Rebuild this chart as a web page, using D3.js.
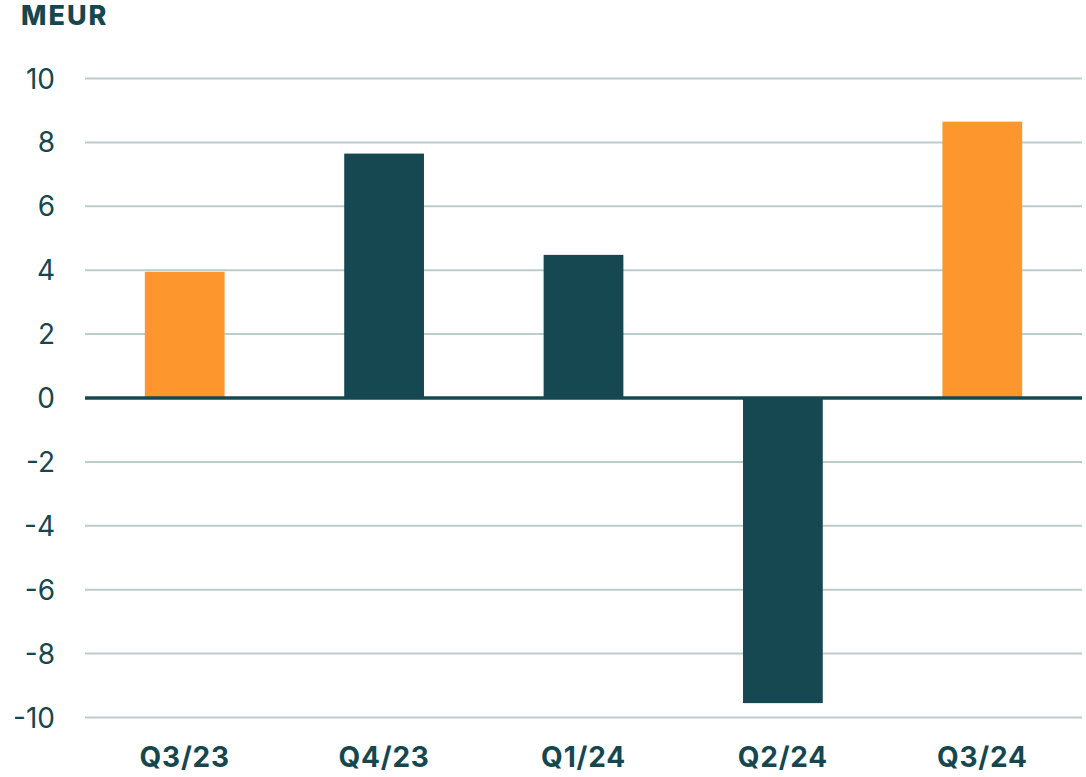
<!DOCTYPE html>
<html>
<head>
<meta charset="utf-8">
<script src="https://cdn.jsdelivr.net/npm/d3@7"></script>
<style>
  body { margin: 0; background: #fff; }
  svg text { font-family: Inter, "Noto Sans", sans-serif; fill: #16474f; }
  .ylab { font-size: 28px; font-weight: 400; }
  .xlab { font-size: 28px; font-weight: 700; letter-spacing: 0.8px; }
  .unit { font-size: 27px; font-weight: 800; letter-spacing: 2px; }
</style>
</head>
<body>
<div id="chart"></div>
<script>
// quarters and result values (MEUR)
var quarters = ['Q3/23', 'Q4/23', 'Q1/24', 'Q2/24', 'Q3/24'];
var values = [3.95, 7.65, 4.48, -9.55, 8.65];
var highlight = [true, false, false, false, true]; // Q3 quarters in orange
var yTicks = [10, 8, 6, 4, 2, 0, -2, -4, -6, -8, -10];

var cfg = {
    w: 1086,
    h: 777,
    left: 85,
    right: 1082,
    top: 78.5,
    bottom: 717.5,
    orange: '#fd962d',
    teal: '#164851',
    grid: '#bccbcd'
};

var svg = d3.select('#chart').append('svg')
    .attr('width', cfg.w)
    .attr('height', cfg.h);

var x = d3.scaleBand()
    .domain(quarters)
    .range([cfg.left, cfg.right])
    .paddingInner(0.6)
    .paddingOuter(0.3);

var y = d3.scaleLinear()
    .domain([-10, 10])
    .range([cfg.bottom, cfg.top]);

// gridlines
svg.append('g').selectAll('line')
    .data(yTicks.filter(function(d) { return d !== 0; }))
    .enter().append('line')
    .attr('x1', cfg.left)
    .attr('x2', cfg.right)
    .attr('y1', function(d) { return y(d); })
    .attr('y2', function(d) { return y(d); })
    .attr('stroke', cfg.grid)
    .attr('stroke-width', 2);

// y labels
svg.append('g').selectAll('text')
    .data(yTicks)
    .enter().append('text')
    .attr('class', 'ylab')
    .attr('x', 55)
    .attr('y', function(d) { return y(d); })
    .attr('dy', '0.36em')
    .attr('text-anchor', 'end')
    .text(function(d) { return d < 0 ? '-' + Math.abs(d) : d; });

// bars
svg.append('g').selectAll('rect')
    .data(values)
    .enter().append('rect')
    .attr('x', function(d, i) { return x(quarters[i]); })
    .attr('width', x.bandwidth())
    .attr('y', function(d) { return y(Math.max(0, d)); })
    .attr('height', function(d) { return Math.abs(y(d) - y(0)); })
    .attr('fill', function(d, i) { return highlight[i] ? cfg.orange : cfg.teal; });

// zero line
svg.append('line')
    .attr('x1', cfg.left)
    .attr('x2', cfg.right)
    .attr('y1', y(0))
    .attr('y2', y(0))
    .attr('stroke', cfg.teal)
    .attr('stroke-width', 3.5);

// x labels
svg.append('g').selectAll('text')
    .data(quarters)
    .enter().append('text')
    .attr('class', 'xlab')
    .attr('x', function(d) { return x(d) + x.bandwidth() / 2; })
    .attr('y', 767)
    .attr('text-anchor', 'middle')
    .text(function(d) { return d; });

svg.append('text')
    .attr('class', 'unit')
    .attr('x', 21)
    .attr('y', 25)
    .text('MEUR');
</script>
</body>
</html>
